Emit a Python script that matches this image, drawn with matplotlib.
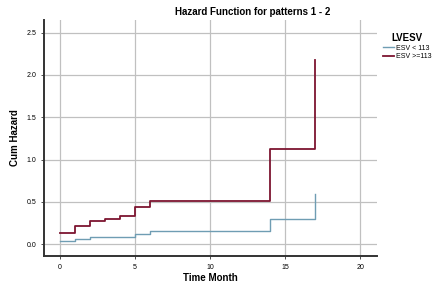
import matplotlib
matplotlib.use("Agg")
import matplotlib.pyplot as plt

# cumulative hazard step values (time in months)
time_low = [0, 1, 2, 4, 5, 6, 14, 17]
haz_low = [0.04, 0.06, 0.08, 0.09, 0.12, 0.15, 0.30, 0.59]
time_high = [0, 1, 2, 3, 4, 5, 6, 14, 17]
haz_high = [0.13, 0.22, 0.27, 0.30, 0.33, 0.44, 0.51, 1.12, 2.18]

x_ticks = [0, 5, 10, 15, 20]
y_ticks = [0.0, 0.5, 1.0, 1.5, 2.0, 2.5]

plt.rcParams['font.family'] = ['Liberation Sans', 'DejaVu Sans']

fig = plt.figure(figsize=(4.4, 2.84), dpi=100)
ax = fig.add_axes([44 / 440, 28 / 284, 333 / 440, 236 / 284])

ax.plot(time_low, haz_low, drawstyle='steps-post', color='#6f9db3',
        linewidth=1.0, label='ESV < 113')
ax.plot(time_high, haz_high, drawstyle='steps-post', color='#7d1530',
        linewidth=1.3, label='ESV >=113')

ax.set_xlim(-1.05, 21.1)
ax.set_ylim(-0.14, 2.65)
ax.set_xticks(x_ticks)
ax.set_yticks(y_ticks)
ax.set_yticklabels([f'{v:.1f}' for v in y_ticks])
ax.tick_params(labelsize=5, length=2, width=0.6, color='#333333')
ax.grid(True, color='#c0c0c0', linewidth=0.9)
ax.set_axisbelow(True)

for s in ['top', 'right']:
    ax.spines[s].set_visible(False)
for s in ['left', 'bottom']:
    ax.spines[s].set_linewidth(1.4)
    ax.spines[s].set_color('#333333')

ax.set_xlabel('Time Month', fontsize=7, fontweight='bold', labelpad=2)
ax.set_ylabel('Cum Hazard', fontsize=7, fontweight='bold', labelpad=5)
fig.text(253 / 440, 1 - 12 / 284, 'Hazard Function for patterns 1 - 2',
         ha='center', va='center', fontsize=7, fontweight='bold')

leg = ax.legend(loc='upper left', bbox_to_anchor=(1.0, 0.97), frameon=False,
                fontsize=5, title='LVESV', handlelength=1.5,
                handletextpad=0.3, labelspacing=0.2)
leg.get_title().set_fontweight('bold')
leg.get_title().set_fontsize(7)

fig.savefig('out.png', dpi=100)
